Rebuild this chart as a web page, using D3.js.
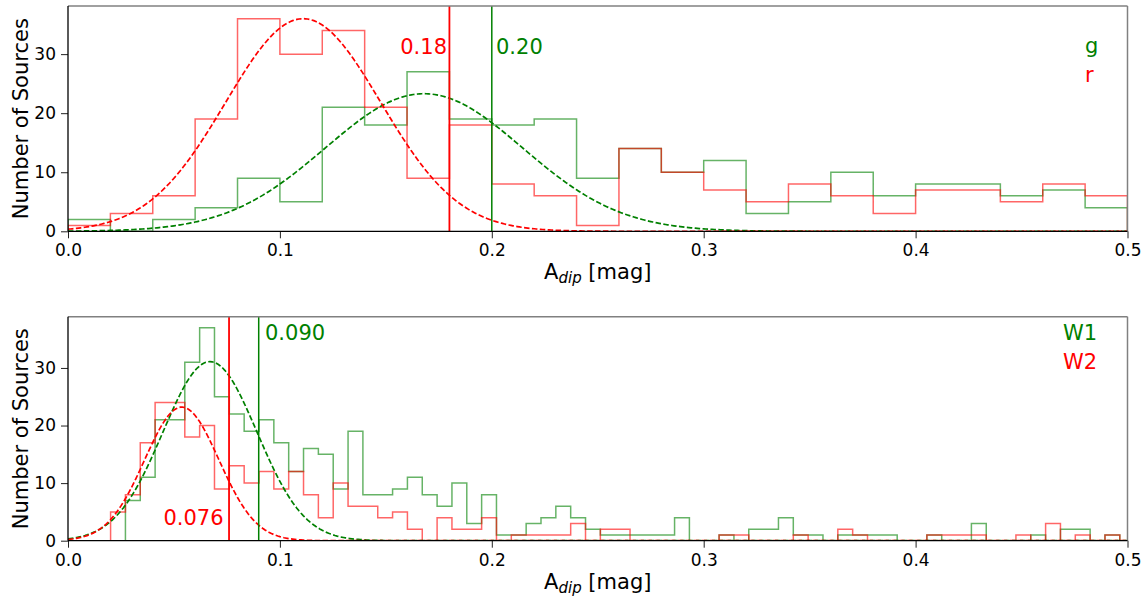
<!DOCTYPE html>
<html>
<head>
<meta charset="utf-8">
<script src="https://cdn.jsdelivr.net/npm/d3@7"></script>
<style>
  html, body { margin: 0; padding: 0; background: #fff; }
  svg { display: block; }
  text { font-family: "DejaVu Sans", sans-serif; }
</style>
</head>
<body>
<svg id="chart" width="1148" height="598"></svg>
<script>
// ---------------- DATA ----------------
// Top panel: optical g / r histograms, bins of 0.02 from 0 to 0.5
const topBinStart = 0.0;
const topBinWidth = 0.02;
const topCountsG = [2,0,2,4,9,5,21,18,27,19,18,19,9,14,10,12,3,5,10,6,8,8,6,7,4];
const topCountsR = [1,3,6,19,36,30,34,21,9,18,8,6,1,14,10,7,5,8,6,3,7,7,5,8,6];
// Gaussian fits [mean, sigma, amplitude]
const topFitG = [0.168, 0.0465, 23.3];
const topFitR = [0.111, 0.0366, 36.0];
const topThreshG = 0.20;
const topThreshR = 0.18;
const topThreshLabelG = "0.20";
const topThreshLabelR = "0.18";
const topLegend = ["g", "r"];

// Bottom panel: WISE W1 / W2 histograms
const botBinStart = 0.0201;
const botBinWidth = 0.007004;
const botCountsW1 = [0,7,11,21,21,31,37,25,22,19,21,17,12,16,15,9,19,8,8,9,11,8,6,10,3,8,1,1,3,4,6,4,2,1,1,1,1,1,4,0,0,1,0,2,2,4,1,1,0,1,1,1,1,0,0,1,0,0,3,0,0,0,1,0,2,2,0,1];
const botCountsW2 = [5,8,17,24,24,18,20,9,13,10,12,9,12,8,4,10,6,6,4,5,2,0,4,2,2,4,0,1,1,1,1,3,0,2,2,0,0,0,0,0,0,1,1,0,0,0,1,0,0,2,1,0,0,0,0,1,1,1,1,0,0,1,0,3,0,1,0,1];
const botFitW1 = [0.067, 0.0222, 31.1];
const botFitW2 = [0.0537, 0.0175, 23.2];
const botThreshW1 = 0.090;
const botThreshW2 = 0.076;
const botThreshLabelW1 = "0.090";
const botThreshLabelW2 = "0.076";
const botLegend = ["W1", "W2"];

const xTicks = [0.0, 0.1, 0.2, 0.3, 0.4, 0.5];
const yTicks = [0, 10, 20, 30];
const yLabel = "Number of Sources";

// ---------------- DRAWING ----------------
const svg = d3.select("#chart");
const RED = "#ff0000", GREEN = "#008000";
const FONT = "DejaVu Sans";

const x = d3.scaleLinear().domain([0, 0.5]).range([68, 1127.5]);

function gaussPts(fit) {
  const [mu, s, a] = fit;
  const pts = [];
  for (let i = 0; i <= 500; i++) {
    const v = i / 1000;
    pts.push([v, a * Math.exp(-((v - mu) * (v - mu)) / (2 * s * s))]);
  }
  return pts;
}

function stepPts(start, width, counts) {
  const pts = [[start, 0]];
  counts.forEach((c, i) => {
    pts.push([start + i * width, c]);
    pts.push([start + (i + 1) * width, c]);
  });
  pts.push([start + counts.length * width, 0]);
  return pts;
}

function panel(cfg) {
  const y = d3.scaleLinear().domain([0, cfg.ymax]).range([cfg.y0, cfg.y1]);
  const g = svg.append("g");
  const clipId = "clip" + cfg.id;
  svg.append("clipPath").attr("id", clipId)
    .append("rect").attr("x", x(0)).attr("y", cfg.y1)
    .attr("width", x(0.5) - x(0)).attr("height", cfg.y0 - cfg.y1);

  const plot = g.append("g").attr("clip-path", `url(#${clipId})`);
  const line = d3.line().x(d => x(d[0])).y(d => y(d[1]));

  // histograms (step)
  plot.append("path").attr("d", line(stepPts(cfg.binStart, cfg.binWidth, cfg.countsA)))
    .attr("fill", "none").attr("stroke", GREEN).attr("stroke-opacity", 0.6).attr("stroke-width", 1.5);
  plot.append("path").attr("d", line(stepPts(cfg.binStart, cfg.binWidth, cfg.countsB)))
    .attr("fill", "none").attr("stroke", RED).attr("stroke-opacity", 0.6).attr("stroke-width", 1.5);

  // gaussian fits
  plot.append("path").attr("d", line(gaussPts(cfg.fitA)))
    .attr("fill", "none").attr("stroke", GREEN).attr("stroke-width", 1.7).attr("stroke-dasharray", "5.5,2.4");
  plot.append("path").attr("d", line(gaussPts(cfg.fitB)))
    .attr("fill", "none").attr("stroke", RED).attr("stroke-width", 1.7).attr("stroke-dasharray", "5.5,2.4");

  // threshold lines
  plot.append("line").attr("x1", x(cfg.threshB)).attr("x2", x(cfg.threshB))
    .attr("y1", cfg.y1).attr("y2", cfg.y0).attr("stroke", RED).attr("stroke-width", 1.8);
  plot.append("line").attr("x1", x(cfg.threshA)).attr("x2", x(cfg.threshA))
    .attr("y1", cfg.y1).attr("y2", cfg.y0).attr("stroke", GREEN).attr("stroke-width", 1.5);

  // axes
  const ax = g.append("g").attr("transform", `translate(0,${cfg.y0})`)
    .call(d3.axisBottom(x).tickValues(xTicks).tickFormat(d3.format(".1f")).tickSize(7).tickPadding(6));
  const ay = g.append("g").attr("transform", `translate(${x(0)},0)`)
    .call(d3.axisLeft(y).tickValues(yTicks).tickSize(7).tickPadding(5));
  [ax, ay].forEach(a => {
    a.select(".domain").remove();
    a.selectAll(".tick line").attr("stroke", "#222").attr("stroke-width", 1);
    a.selectAll(".tick text").attr("font-family", FONT).attr("font-size", 17).attr("fill", "#000");
  });

  // spines
  g.append("line").attr("x1", x(0)).attr("x2", x(0.5)).attr("y1", cfg.y1).attr("y2", cfg.y1)
    .attr("stroke", "#808080").attr("stroke-width", 1.5);
  g.append("line").attr("x1", x(0.5)).attr("x2", x(0.5)).attr("y1", cfg.y1).attr("y2", cfg.y0)
    .attr("stroke", "#808080").attr("stroke-width", 1.5);
  g.append("line").attr("x1", x(0)).attr("x2", x(0)).attr("y1", cfg.y1).attr("y2", cfg.y0)
    .attr("stroke", "#000").attr("stroke-width", 1.3);
  g.append("line").attr("x1", x(0)).attr("x2", x(0.5)).attr("y1", cfg.y0).attr("y2", cfg.y0)
    .attr("stroke", "#000").attr("stroke-width", 1.3);

  // threshold labels
  g.append("text").attr("x", cfg.labBx).attr("y", cfg.labBy).attr("text-anchor", cfg.labBanchor)
    .attr("font-size", 21).attr("fill", RED).text(cfg.labelB);
  g.append("text").attr("x", cfg.labAx).attr("y", cfg.labAy).attr("text-anchor", cfg.labAanchor)
    .attr("font-size", 21).attr("fill", GREEN).text(cfg.labelA);

  // legend text
  g.append("text").attr("x", cfg.legX).attr("y", cfg.legY).attr("font-size", 21)
    .attr("fill", GREEN).text(cfg.legend[0]);
  g.append("text").attr("x", cfg.legX).attr("y", cfg.legY + cfg.legGap).attr("font-size", 21)
    .attr("fill", RED).text(cfg.legend[1]);

  // axis labels
  const xl = g.append("text").attr("x", (x(0) + x(0.5)) / 2).attr("y", cfg.xlabY)
    .attr("text-anchor", "middle").attr("font-size", 21).attr("fill", "#000");
  xl.append("tspan").text("A");
  xl.append("tspan").attr("font-size", 15).attr("font-style", "italic").attr("dy", 4).text("dip");
  xl.append("tspan").attr("dy", -4).text(" [mag]");

  g.append("text").attr("transform", `translate(28,${(cfg.y0 + cfg.y1) / 2}) rotate(-90)`)
    .attr("text-anchor", "middle").attr("font-size", 21).attr("fill", "#000").text(yLabel);
}

panel({
  id: "top", y0: 231.3, y1: 6, ymax: 38.15,
  binStart: topBinStart, binWidth: topBinWidth,
  countsA: topCountsG, countsB: topCountsR,
  fitA: topFitG, fitB: topFitR,
  threshA: topThreshG, threshB: topThreshR,
  labelA: topThreshLabelG, labelB: topThreshLabelR,
  labAx: 496, labAy: 54, labAanchor: "start",
  labBx: 447, labBy: 54, labBanchor: "end",
  legend: topLegend, legX: 1085, legY: 53, legGap: 29,
  xlabY: 279
});

panel({
  id: "bot", y0: 540.7, y1: 316.7, ymax: 38.9,
  binStart: botBinStart, binWidth: botBinWidth,
  countsA: botCountsW1, countsB: botCountsW2,
  fitA: botFitW1, fitB: botFitW2,
  threshA: botThreshW1, threshB: botThreshW2,
  labelA: botThreshLabelW1, labelB: botThreshLabelW2,
  labAx: 265, labAy: 340, labAanchor: "start",
  labBx: 223.5, labBy: 525, labBanchor: "end",
  legend: botLegend, legX: 1063, legY: 340, legGap: 29,
  xlabY: 589
});
</script>
</body>
</html>
